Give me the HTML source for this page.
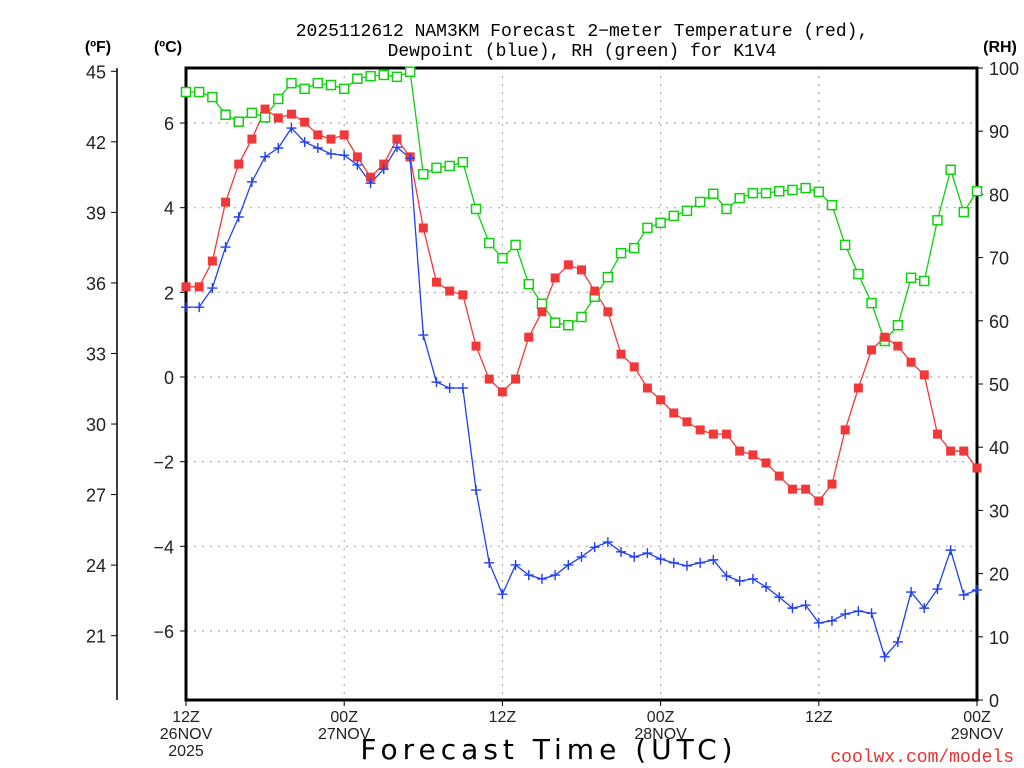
<!DOCTYPE html>
<html><head><meta charset="utf-8"><style>
html,body{margin:0;padding:0;background:#fff;}
svg{display:block;font-family:"Liberation Sans",sans-serif;}
</style></head><body>
<svg id="chart" width="1024" height="768" viewBox="0 0 1024 768" xmlns="http://www.w3.org/2000/svg">
<text x="582" y="36" font-family="Liberation Mono, monospace" font-size="18" text-anchor="middle">2025112612 NAM3KM Forecast 2−meter Temperature (red),</text>
<text x="582" y="56" font-family="Liberation Mono, monospace" font-size="18" text-anchor="middle">Dewpoint (blue), RH (green) for K1V4</text>
<text x="98" y="52" font-size="16" font-weight="bold" text-anchor="middle">(ºF)</text>
<text x="168" y="52" font-size="16" font-weight="bold" text-anchor="middle">(ºC)</text>
<text x="1000" y="52" font-size="16" font-weight="bold" text-anchor="middle">(RH)</text>
<g id="grid"></g><g id="axes"></g><g id="series"></g>
<text x="549" y="759" font-size="28" font-family="DejaVu Sans, sans-serif" text-anchor="middle" letter-spacing="5">Forecast Time (UTC)</text>
<text x="1014" y="762" font-size="18" font-family="Liberation Mono, monospace" fill="#e83030" text-anchor="end">coolwx.com/models</text>
</svg>
<script>
const hours = Array.from({length:61},(_,i)=>i);
const tempC = [2.13,2.13,2.74,4.13,5.03,5.62,6.33,6.12,6.21,6.02,5.72,5.62,5.72,5.20,4.72,5.03,5.62,5.20,3.52,2.24,2.03,1.94,0.73,-0.05,-0.35,-0.05,0.94,1.54,2.34,2.65,2.53,2.03,1.54,0.54,0.24,-0.26,-0.54,-0.85,-1.06,-1.25,-1.35,-1.35,-1.75,-1.84,-2.03,-2.34,-2.65,-2.65,-2.93,-2.53,-1.25,-0.26,0.64,0.94,0.73,0.35,0.05,-1.35,-1.75,-1.75,-2.15];
const dewC = [1.65,1.65,2.10,3.07,3.78,4.61,5.20,5.41,5.88,5.55,5.41,5.27,5.24,5.01,4.58,4.91,5.43,5.17,0.99,-0.12,-0.26,-0.26,-2.67,-4.39,-5.13,-4.44,-4.68,-4.77,-4.68,-4.44,-4.25,-4.02,-3.90,-4.13,-4.25,-4.16,-4.30,-4.39,-4.46,-4.39,-4.32,-4.70,-4.82,-4.77,-4.96,-5.20,-5.46,-5.39,-5.81,-5.76,-5.60,-5.53,-5.58,-6.61,-6.26,-5.08,-5.46,-5.01,-4.09,-5.15,-5.03];
const rh = [96.2,96.2,95.4,92.6,91.5,92.9,92.2,95.1,97.6,96.7,97.6,97.3,96.7,98.3,98.7,98.9,98.6,99.4,83.2,84.2,84.5,85.1,77.7,72.3,69.9,72.0,65.8,62.7,59.7,59.3,60.6,63.8,66.9,70.7,71.5,74.7,75.5,76.6,77.4,78.8,80.1,77.7,79.4,80.2,80.2,80.5,80.7,81.0,80.4,78.3,72.0,67.4,62.8,56.8,59.3,66.8,66.3,75.9,83.9,77.2,80.5];
const celsiusTicks = [6,4,2,0,-2,-4,-6];
const fahrenheitTicks = [45,42,39,36,33,30,27,24,21];
const rhTicks = [0,10,20,30,40,50,60,70,80,90,100];
const timeTicks = [0,12,24,36,48,60];
const timeLabels = [["12Z","26NOV","2025"],["00Z","27NOV"],["12Z"],["00Z","28NOV"],["12Z"],["00Z","29NOV"]];

const L=186,R=977,T=68,B=700;
const xS=h=>L+(R-L)*h/60;
const yC=c=>377-42.33*c;
const yF=f=>yC((f-32)*5/9);
const yRH=v=>B-(B-T)*v/100;
const NS="http://www.w3.org/2000/svg";
function mk(tag,attrs,parent,txt){const e=document.createElementNS(NS,tag);for(const k in attrs)e.setAttribute(k,attrs[k]);if(txt!==undefined)e.textContent=txt;parent.appendChild(e);return e;}
const grid=document.getElementById('grid'),axes=document.getElementById('axes'),ser=document.getElementById('series');
const gs={stroke:'#aaa','stroke-width':1.2,'stroke-dasharray':'2 6'};
celsiusTicks.forEach(c=>{
  const l=mk('line',Object.assign({x1:L,x2:R,y1:yC(c),y2:yC(c)},gs),grid);
  
  
  mk('line',{x1:180,x2:L,y1:yC(c),y2:yC(c),stroke:'#000'},axes);
  const tx=mk('text',{x:174,y:yC(c)+7,'font-size':18,'text-anchor':'end',fill:'#222'},axes,c<0?'−'+Math.abs(c):String(c));
  
  
});
timeTicks.forEach((h,i)=>{
  if(h>0&&h<60){const l=mk('line',Object.assign({x1:xS(h),x2:xS(h),y1:T,y2:B},gs),grid);
  
  }
  mk('line',{x1:xS(h),x2:xS(h),y1:B,y2:B+6,stroke:'#000'},axes);
  timeLabels[i].forEach((s,j)=>{
    const tx=mk('text',{x:xS(h),y:722+j*17,'font-size':16,'text-anchor':'middle',fill:'#222'},axes,s);
    
    
  });
});
fahrenheitTicks.forEach(f=>{
  mk('line',{x1:111,x2:117,y1:yF(f),y2:yF(f),stroke:'#000'},axes);
  const tx=mk('text',{x:106,y:yF(f)+7,'font-size':18,'text-anchor':'end',fill:'#222'},axes,String(f));
  
  
});
mk('line',{x1:117,x2:117,y1:68,y2:700,stroke:'#000','stroke-width':1.5},axes);
rhTicks.forEach(v=>{
  mk('line',{x1:R,x2:R+6,y1:yRH(v),y2:yRH(v),stroke:'#000'},axes);
  const tx=mk('text',{x:989,y:yRH(v)+7,'font-size':18,fill:'#222'},axes,String(v));
  
  
});
const fr=mk('rect',{x:L,y:T,width:R-L,height:B-T,fill:'none',stroke:'#000','stroke-width':3},axes);



function line(vals,fy,col,name){
  const p=mk('polyline',{points:vals.map((v,i)=>xS(hours[i])+','+fy(v)).join(' '),fill:'none',stroke:col,'stroke-width':1.3},ser);
  
  
}
line(rh,yRH,'#10d010','rh-line');
line(tempC,yC,'#f03838','temperature-line');
line(dewC,yC,'#2040f0','dewpoint-line');
rh.forEach((v,i)=>{const r=mk('rect',{x:xS(hours[i])-4.5,y:yRH(v)-4.5,width:9,height:9,fill:'#fff',stroke:'#10d010','stroke-width':1.5},ser);
  
  });
tempC.forEach((v,i)=>{const r=mk('rect',{x:xS(hours[i])-4.5,y:yC(v)-4.5,width:9,height:9,fill:'#f03838'},ser);
  
  });
dewC.forEach((v,i)=>{const x=xS(hours[i]),y=yC(v);
  const p=mk('path',{d:`M${x-5},${y}H${x+5}M${x},${y-5}V${y+5}`,stroke:'#2040f0','stroke-width':1.4},ser);
  
  });
</script>
</body></html>
